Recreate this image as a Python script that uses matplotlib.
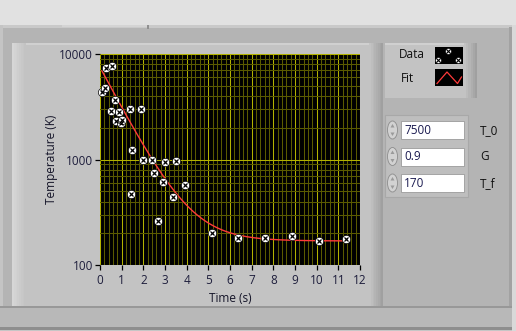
import matplotlib
matplotlib.use('Agg')
import matplotlib.pyplot as plt
from matplotlib.patches import Rectangle, Ellipse, Polygon
from matplotlib.ticker import FixedLocator, NullFormatter, FixedFormatter
import numpy as np

# cooling data
time_s = [0.09, 0.23, 0.28, 0.51, 0.55, 0.69, 0.74, 0.88, 0.97, 1.02,
          1.39, 1.43, 1.48, 1.89, 1.99, 2.40, 2.49, 2.68, 2.91, 3.00,
          3.37, 3.51, 3.93, 5.17, 6.37, 7.62, 8.87, 10.12, 11.36]
temp_k = [4340, 4730, 7330, 2870, 7650, 3650, 2320, 2800, 2210, 2360,
          3000, 470, 1225, 3000, 986, 986, 743, 261, 611, 944,
          441, 966, 571, 201, 180, 180, 188, 169, 176]

# fit parameters shown in the controls
T_0 = 7500
G = 0.9
T_f = 170
param_names = ['T_0', 'G', 'T_f']
param_values = ['7500', '0.9', '170']

x_ticks = list(range(13))
y_ticks = [100, 1000, 10000]
y_tick_labels = ['100', '1000', '10000']

FONT = 'Open Sans'
plt.rcParams['font.family'] = [FONT, 'DejaVu Sans']
plt.rcParams['font.size'] = 8.5

W, H = 516, 331
fig = plt.figure(figsize=(W / 100, H / 100), dpi=100)

# background axes in pixel units (y down) for the panel look
bg = fig.add_axes([0, 0, 1, 1])
bg.set_xlim(0, W)
bg.set_ylim(H, 0)
bg.axis('off')


def rect(x0, y0, x1, y1, color, z=1, ec='none', lw=0):
    bg.add_patch(Rectangle((x0, y0), x1 - x0, y1 - y0, facecolor=color,
                           edgecolor=ec, linewidth=lw, zorder=z))


def hgrad(x0, x1, y0, y1, c0, c1, n=8, z=2):
    # crude horizontal gradient built from thin strips
    c0 = np.array(matplotlib.colors.to_rgb(c0))
    c1 = np.array(matplotlib.colors.to_rgb(c1))
    xs = np.linspace(x0, x1, n + 1)
    for i in range(n):
        f = i / max(n - 1, 1)
        rect(xs[i], y0, xs[i + 1] + 0.3, y1, c0 + (c1 - c0) * f, z)


# window + tab frame
rect(0, 0, W, H, '#E1E1E1', 0)
rect(0, 25, 512, 331, '#B4B4B4')
rect(0, 25, 512, 27.5, '#C9C9C9', 2)
rect(0, 25, 3, 306, '#C4C4C4', 2)
rect(62, 25, 148, 26.5, '#D4D4D4', 3)
rect(147, 25, 149, 29, '#909090', 3)
rect(509, 27, 512, 306, '#A2A2A2', 2)
rect(512, 25, W, H, '#D9D9D9', 2)
rect(0, 305.5, 512, 307.5, '#989898', 3)
rect(0, 307.5, 512, 327, '#B8B8B8', 3)
rect(0, 327, 512, 330, '#8E8E8E', 3)
rect(0, 330, 512, H, '#C6C6C6', 3)

# graph panel
rect(12, 43, 383, 305.5, '#C3C3C3', 2)
rect(12, 43, 383, 45, '#D0D0D0', 3)
hgrad(12, 26, 43, 305.5, '#D6D6D6', '#C3C3C3', 8, 3)
hgrad(369, 383, 43, 305.5, '#C3C3C3', '#A0A0A0', 8, 3)

# legend panel
rect(385, 43, 477, 98, '#C3C3C3', 2)
rect(385, 43, 477, 45, '#D0D0D0', 3)
hgrad(464, 477, 43, 98, '#C3C3C3', '#A0A0A0', 6, 3)
bg.text(412, 55, 'Data', ha='center', va='center', color='#101010', zorder=5)
bg.text(407, 78, 'Fit', ha='center', va='center', color='#101010', zorder=5)
rect(435, 47, 463, 63.5, 'black', 5)
legend_pts_x = [447.7, 438.3, 457.7]
legend_pts_y = [50.5, 60, 60]
bg.plot(legend_pts_x, legend_pts_y, 'o', ms=4.3, mfc='white', mec='black', mew=0.4, zorder=6)
bg.plot(legend_pts_x, legend_pts_y, 'x', ms=2.3, color='black', mew=0.8, zorder=7)
rect(435, 69, 463, 86, 'black', 5)
bg.plot([437, 447, 457.5, 461.5], [83.5, 72, 83.5, 77], color='#FF3A3A', lw=0.9, zorder=6)

# numeric controls
rect(385, 115, 468, 197, '#BEBEBE', 2, ec='#A8A8A8', lw=0.8)
for i in range(3):
    yc = 130 + i * 26.5
    rect(401, yc - 9, 464, yc + 9, 'white', 4, ec='#9A9A9A', lw=0.6)
    bg.add_patch(Ellipse((392.5, yc), 10, 18, facecolor='#D2D2D2',
                         edgecolor='#8C8C8C', lw=0.6, zorder=4))
    bg.add_patch(Polygon([(390.5, yc - 2.5), (394.5, yc - 2.5), (392.5, yc - 6)],
                         closed=True, facecolor='#9A9A9A', edgecolor='none', zorder=5))
    bg.add_patch(Polygon([(390.5, yc + 2.5), (394.5, yc + 2.5), (392.5, yc + 6)],
                         closed=True, facecolor='#9A9A9A', edgecolor='none', zorder=5))
    bg.text(404, yc + 0.5, param_values[i], ha='left', va='center', color='#1A1A50', zorder=6)
    bg.text(480, yc + 0.5, param_names[i], ha='left', va='center', color='#101010', zorder=6)

# the graph itself
ax = fig.add_axes([100 / W, (H - 265.3) / H, 260 / W, 211.3 / H])
ax.set_facecolor('black')
ax.set_yscale('log')
ax.set_xlim(0, 12)
ax.set_ylim(100, 10000)

ax.xaxis.set_major_locator(FixedLocator(x_ticks))
ax.xaxis.set_minor_locator(FixedLocator(np.arange(0, 12.01, 0.2)))
ax.yaxis.set_major_locator(FixedLocator(y_ticks))
ax.yaxis.set_major_formatter(FixedFormatter(y_tick_labels))
ax.yaxis.set_minor_locator(FixedLocator([m * d for d in [100, 1000] for m in range(2, 10)]))
ax.yaxis.set_minor_formatter(NullFormatter())

ax.grid(which='minor', color='#5A5A00', lw=0.75)
ax.grid(which='major', color='#B2B200', lw=0.75)
ax.set_axisbelow(True)
ax.tick_params(which='minor', length=0)
ax.tick_params(which='major', direction='out', length=3.5, width=0.9,
               color='black', labelcolor='#1E1E3C', labelsize=8.5)
ax.tick_params(axis='x', pad=3)
ax.tick_params(axis='y', pad=1.5)
for s in ax.spines.values():
    s.set_visible(False)

t_fit = np.linspace(min(time_s), max(time_s), 300)
T_fit = (T_0 - T_f) * np.exp(-G * t_fit) + T_f
ax.plot(t_fit, T_fit, color='#FF3A3A', lw=1.0, zorder=3)
ax.plot(time_s, temp_k, 'o', ms=6, mfc='white', mec='black', mew=0.5, zorder=4, clip_on=False)
ax.plot(time_s, temp_k, 'x', ms=3.2, color='black', mew=0.9, zorder=5, clip_on=False)

ax.set_xlabel('Time (s)', color='#141428', labelpad=3.5)
ax.set_ylabel('Temperature (K)', color='#141428', labelpad=1)

fig.savefig('out.png', dpi=100)
